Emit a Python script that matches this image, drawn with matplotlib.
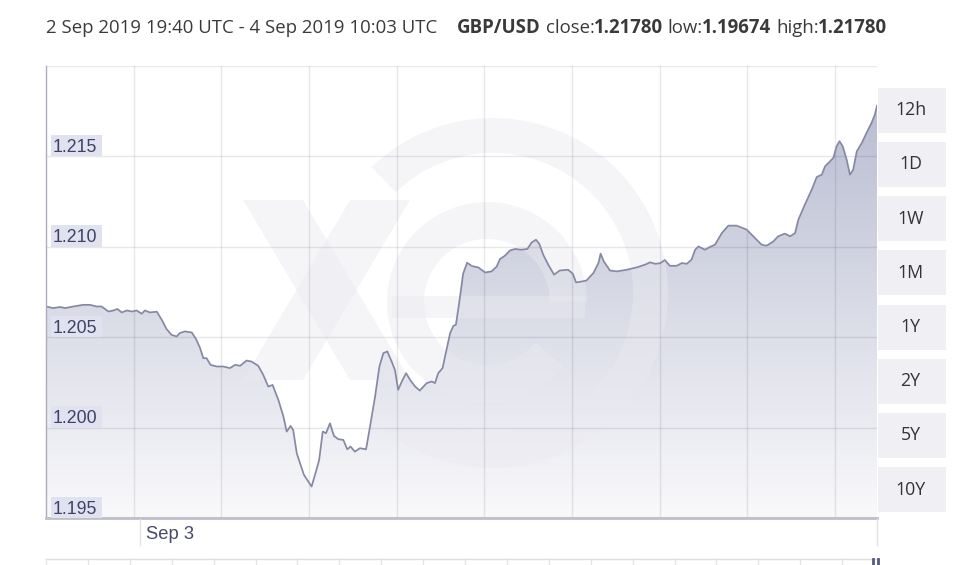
import matplotlib
matplotlib.use("Agg")
import matplotlib.pyplot as plt
import numpy as np
from matplotlib.patches import Rectangle, Wedge, Polygon
from matplotlib.transforms import Affine2D
from matplotlib.lines import Line2D

# ---------------- data ----------------
# minutes after 2 Sep 2019 19:40 UTC
minutes = [0, 20, 39, 53, 76, 103, 122, 140, 154, 173, 187, 198, 210, 224, 238, 251, 265, 274, 288, 307,
           321, 334, 348, 362, 371, 385, 404, 416, 427, 436, 445, 456, 473, 491, 510, 524, 538, 556, 570, 588,
           602, 616, 628, 644, 658, 667, 678, 685, 695, 704, 715, 727, 736, 748, 757, 767, 776, 787, 798, 810,
           824, 835, 844, 856, 870, 887, 898, 912, 924, 935, 946, 958, 967, 976, 986, 998, 1009, 1023, 1036, 1055,
           1069, 1078, 1087, 1099, 1108, 1120, 1129, 1136, 1145, 1156, 1167, 1180, 1198, 1217, 1235, 1249, 1258, 1272, 1286, 1300,
           1318, 1334, 1346, 1358, 1367, 1378, 1392, 1408, 1424, 1447, 1460, 1469, 1485, 1498, 1517, 1531, 1537, 1546, 1563, 1582,
           1609, 1637, 1660, 1674, 1688, 1702, 1715, 1729, 1748, 1762, 1776, 1789, 1799, 1808, 1826, 1840, 1854, 1873, 1891, 1914,
           1942, 1960, 1983, 1997, 2016, 2029, 2048, 2062, 2076, 2085, 2103, 2122, 2136, 2150, 2159, 2173, 2182, 2191, 2199, 2208,
           2219, 2228, 2237, 2247, 2261, 2274, 2288, 2297, 2303]
rates = [1.20670, 1.20661, 1.20667, 1.20661, 1.20670, 1.20679, 1.20679, 1.20670, 1.20670, 1.20642,
         1.20648, 1.20656, 1.20637, 1.20648, 1.20642, 1.20648, 1.20630, 1.20648, 1.20637, 1.20641,
         1.20596, 1.20545, 1.20513, 1.20504, 1.20523, 1.20532, 1.20526, 1.20489, 1.20440, 1.20384,
         1.20384, 1.20347, 1.20338, 1.20338, 1.20329, 1.20347, 1.20342, 1.20371, 1.20365, 1.20342,
         1.20292, 1.20227, 1.20236, 1.20153, 1.20061, 1.19978, 1.20009, 1.19987, 1.19858, 1.19803,
         1.19738, 1.19701, 1.19674, 1.19756, 1.19821, 1.19978, 1.19969, 1.20024, 1.19954, 1.19936,
         1.19932, 1.19880, 1.19895, 1.19867, 1.19886, 1.19880, 1.20006, 1.20172, 1.20338, 1.20412,
         1.20421, 1.20365, 1.20319, 1.20209, 1.20255, 1.20301, 1.20264, 1.20227, 1.20205, 1.20246,
         1.20255, 1.20246, 1.20301, 1.20329, 1.20412, 1.20523, 1.20563, 1.20569, 1.20689, 1.20851,
         1.20912, 1.20894, 1.20886, 1.20858, 1.20864, 1.20891, 1.20932, 1.20951, 1.20980, 1.20988,
         1.20984, 1.20988, 1.21024, 1.21039, 1.21017, 1.20956, 1.20901, 1.20846, 1.20869, 1.20873,
         1.20851, 1.20803, 1.20808, 1.20814, 1.20855, 1.20910, 1.20962, 1.20919, 1.20869, 1.20864,
         1.20873, 1.20886, 1.20901, 1.20914, 1.20906, 1.20909, 1.20927, 1.20895, 1.20895, 1.20910,
         1.20906, 1.20929, 1.20984, 1.21002, 1.20984, 1.20999, 1.21012, 1.21076, 1.21117, 1.21117,
         1.21095, 1.21058, 1.21012, 1.21006, 1.21030, 1.21058, 1.21073, 1.21058, 1.21076, 1.21150,
         1.21233, 1.21316, 1.21386, 1.21399, 1.21445, 1.21473, 1.21492, 1.21556, 1.21584, 1.21556,
         1.21482, 1.21399, 1.21427, 1.21528, 1.21575, 1.21630, 1.21686, 1.21731, 1.21780]

y_ticks = [1.195, 1.200, 1.205, 1.210, 1.215]
y_tick_labels = ["1.195", "1.200", "1.205", "1.210", "1.215"]
y_min, y_max = 1.195, 1.220
x_span = 2303                    # 19:40 -> 10:03 (minutes)
grid_step = 243                  # chart's vertical grid spacing (minutes)
x_tick_minute = 260              # Sep 3 00:00
x_tick_label = "Sep 3"
range_buttons = ["12h", "1D", "1W", "1M", "1Y", "2Y", "5Y", "10Y"]
title_parts = [("2 Sep 2019 19:40 UTC - 4 Sep 2019 10:03 UTC", "normal"),
               ("GBP/USD", "bold"), ("close:", "normal"), ("1.21780", "bold"),
               ("low:", "normal"), ("1.19674", "bold"), ("high:", "normal"), ("1.21780", "bold")]
title_gaps = [4, 1, 0, 1, 0, 1, 0]   # spaces after each part

# ---------------- figure ----------------
W, H = 968, 565
fig = plt.figure(figsize=(W / 100, H / 100), dpi=100)
fig.patch.set_facecolor("white")
px = Affine2D().scale(1.0 / W, -1.0 / H).translate(0, 1) + fig.transFigure

L, R, T, B = 46, 877, 66, 518
ax = fig.add_axes([L / W, 1 - B / H, (R - L) / W, (B - T) / H])
ax.set_facecolor("white")

# gradient fill under the line
top_c = np.array([180, 184, 206]) / 255
bot_c = np.array([249, 249, 251]) / 255
g = np.linspace(0, 1, 256)[:, None]
grad = (top_c[None, :] * (1 - g) + bot_c[None, :] * g)[:, None, :]
img = ax.imshow(grad, extent=[0, x_span, y_min, y_max], aspect="auto",
                origin="upper", interpolation="bilinear", zorder=1)
fb = ax.fill_between(minutes, rates, y_min, facecolor="none", edgecolor="none")
img.set_clip_path(fb.get_paths()[0], transform=ax.transData)

# watermark (xe logo), drawn in pixel coordinates
wm_col = (234 / 255, 234 / 255, 240 / 255)
wm_kw = dict(facecolor=wm_col, edgecolor="none", alpha=0.45, zorder=1.5, transform=px)
ax.add_patch(Wedge((493, 293), 175, 226, 488, width=35, **wm_kw))
ax.add_patch(Wedge((487, 302), 100, 40, 360, width=37, **wm_kw))
ax.add_patch(Polygon([(392, 296), (585, 296), (585, 318), (392, 318)], closed=True, **wm_kw))
ax.add_patch(Polygon([(243, 200), (303, 200), (410, 380), (350, 380)], closed=True, **wm_kw))
ax.add_patch(Polygon([(350, 200), (410, 200), (303, 380), (243, 380)], closed=True, **wm_kw))

# line
ax.plot(minutes, rates, color=(133 / 255, 137 / 255, 164 / 255), lw=1.25, zorder=4,
        solid_joinstyle="round")

ax.set_xlim(0, x_span)
ax.set_ylim(y_min, y_max)
ax.set_xticks(np.arange(grid_step, x_span, grid_step))
ax.set_yticks(y_ticks + [y_max])
ax.grid(True, color=(0, 0, 0.12), alpha=0.09, lw=1.0, zorder=3)
ax.set_axisbelow(False)
ax.tick_params(length=0, labelbottom=False, labelleft=False)
for s in ["top", "right"]:
    ax.spines[s].set_visible(False)
ax.spines["left"].set_color((170 / 255, 173 / 255, 192 / 255))
ax.spines["left"].set_linewidth(1.0)
ax.spines["bottom"].set_color((190 / 255, 190 / 255, 200 / 255))
ax.spines["bottom"].set_linewidth(2.0)
ax.spines["left"].set_zorder(5)
ax.spines["bottom"].set_zorder(5)

# y labels inside plot with boxes
fig.canvas.draw()
lab_col = (62 / 255, 66 / 255, 102 / 255)
for v, s in zip(y_ticks, y_tick_labels):
    gy = H - ax.transData.transform((0, v))[1]
    fig.add_artist(Rectangle((50.5, gy - 21.5), 51, 21.5, transform=px,
                             facecolor=(225 / 255, 226 / 255, 239 / 255), edgecolor="none", zorder=6))
    fig.text(52.5, gy - 4.5, s, transform=px, family="Liberation Sans", fontsize=12.8,
             color=lab_col, va="baseline", ha="left", zorder=7)

# x-axis label area
tick_px = L + x_tick_minute / x_span * (R - L)
fig.add_artist(Line2D([tick_px, tick_px], [519, 545], transform=px, color="#e2e2e8", lw=1))
fig.add_artist(Line2D([R, R], [519, 545], transform=px, color="#e2e2e8", lw=1))
fig.text(tick_px + 6, 539, x_tick_label, transform=px, family="Liberation Sans", fontsize=13.2,
         color=(70 / 255, 74 / 255, 105 / 255), va="baseline", ha="left")

# navigator strip (partially visible)
fig.add_artist(Line2D([L, R], [558.5, 558.5], transform=px, color="#dcdce2", lw=1))
for xx in np.arange(L, R, 41.9):
    fig.add_artist(Line2D([xx, xx], [559, 565], transform=px, color="#e6e6ea", lw=1))
for xx in (872.5, 877.5):
    fig.add_artist(Line2D([xx, xx], [559, 565], transform=px, color=(85 / 255, 90 / 255, 125 / 255), lw=2))

# range buttons
for i, lab in enumerate(range_buttons):
    y0 = 87.7 + 54.2 * i
    fig.add_artist(Rectangle((878, y0), 68, 45, transform=px,
                             facecolor=(239 / 255, 239 / 255, 244 / 255), edgecolor="none"))
    fig.text(910.5, y0 + 22.5, lab, transform=px, family="Open Sans", fontsize=12.8,
             color="#333333", va="center", ha="center")

# title with mixed weights
renderer = fig.canvas.get_renderer()
probe = fig.text(0, 0, title_parts[0][0], family="Open Sans", fontsize=11)
wprobe = probe.get_window_extent(renderer).width
probe.remove()
tfs = 11 * 391 / wprobe
sp1 = fig.text(0, 0, "a a", family="Open Sans", fontsize=tfs)
sp2 = fig.text(0, 0, "aa", family="Open Sans", fontsize=tfs)
space_w = sp1.get_window_extent(renderer).width - sp2.get_window_extent(renderer).width
sp1.remove(); sp2.remove()
x = 46.5
for i, (s, wt) in enumerate(title_parts):
    t = fig.text(x, 33, s, transform=px, family="Open Sans", fontsize=tfs, weight=wt,
                 color="#3a3a3a", va="baseline", ha="left")
    x += t.get_window_extent(renderer).width
    if i < len(title_gaps):
        x += title_gaps[i] * space_w - (1 if title_gaps[i] == 0 else 0)

fig.savefig("out.png", dpi=100, facecolor="white")
